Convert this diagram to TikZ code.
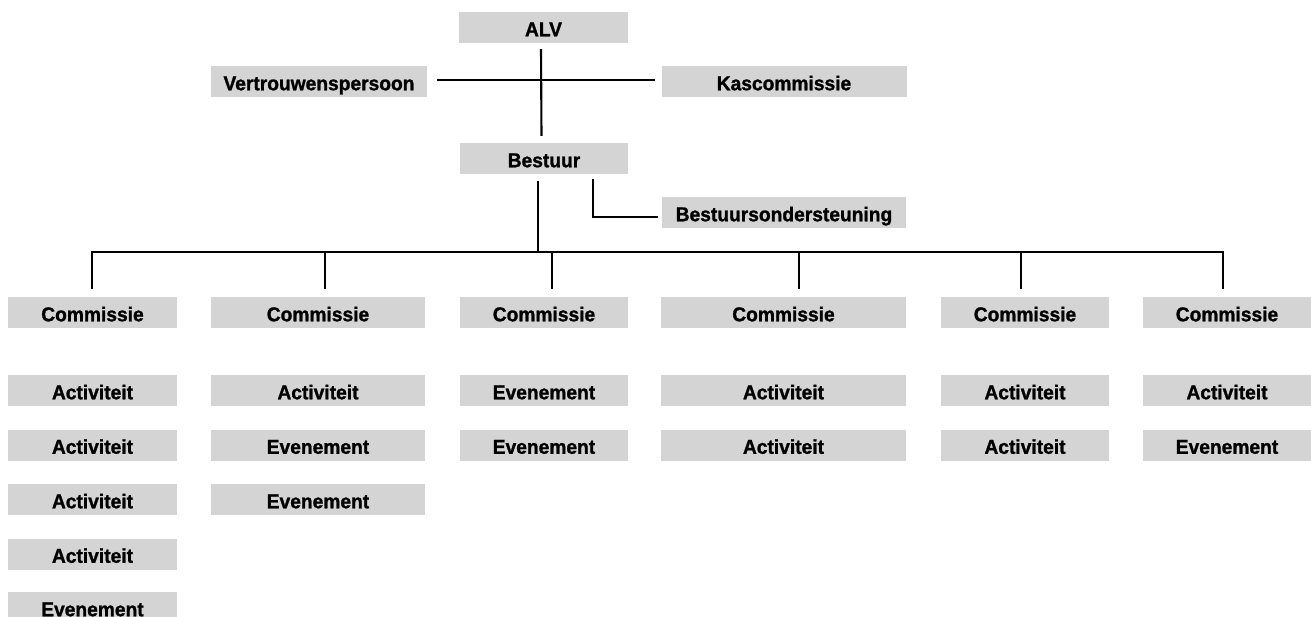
\documentclass[tikz,border=0pt]{standalone}
\usepackage{fontspec}
\setmainfont[FakeStretch=0.96,BoldFeatures={FakeBold=1.2}]{Liberation Sans}
\usetikzlibrary{calc}
\definecolor{boxgray}{RGB}{212,212,212}
\begin{document}
\begin{tikzpicture}[x=1pt,y=-1pt,
  box/.style={fill=boxgray, inner sep=0pt, minimum height=31pt,
    text height=17.5pt, text depth=0pt,
    font=\fontsize{20}{20}\selectfont\bfseries},
  conn/.style={line width=2.1pt, black}]
\useasboundingbox (0,0) rectangle (1311,616);
\clip (0,0) rectangle (1311,616);
% top part
\node[box, minimum width=169pt] (alv) at (543.5,27.5) {ALV};
\node[box, minimum width=216pt] (vp) at (319,81.5) {Vertrouwenspersoon};
\node[box, minimum width=245pt] (kas) at (784,81.5) {Kascommissie};
\node[box, minimum width=168pt] (bestuur) at (544,158.5) {Bestuur};
\node[box, minimum width=244pt] (bo) at (784,212.5) {Bestuursondersteuning};
% commissies
\node[box, minimum width=169pt] (c1) at (92.5,312.5) {Commissie};
\node[box, minimum width=214pt] (c2) at (318,312.5) {Commissie};
\node[box, minimum width=168pt] (c3) at (544,312.5) {Commissie};
\node[box, minimum width=245pt] (c4) at (783.5,312.5) {Commissie};
\node[box, minimum width=168pt] (c5) at (1025,312.5) {Commissie};
\node[box, minimum width=168pt] (c6) at (1227,312.5) {Commissie};
% column 1
\node[box, minimum width=169pt] (c1a) at (92.5,390.5) {Activiteit};
\node[box, minimum width=169pt] (c1b) at (92.5,445) {Activiteit};
\node[box, minimum width=169pt] (c1c) at (92.5,499.5) {Activiteit};
\node[box, minimum width=169pt] (c1d) at (92.5,554) {Activiteit};
\node[box, minimum width=169pt] (c1e) at (92.5,607.5) {Evenement};
% column 2
\node[box, minimum width=214pt] (c2a) at (318,390.5) {Activiteit};
\node[box, minimum width=214pt] (c2b) at (318,445) {Evenement};
\node[box, minimum width=214pt] (c2c) at (318,499.5) {Evenement};
% column 3
\node[box, minimum width=168pt] (c3a) at (544,390.5) {Evenement};
\node[box, minimum width=168pt] (c3b) at (544,445) {Evenement};
% column 4
\node[box, minimum width=245pt] (c4a) at (783.5,390.5) {Activiteit};
\node[box, minimum width=245pt] (c4b) at (783.5,445) {Activiteit};
% column 5
\node[box, minimum width=168pt] (c5a) at (1025,390.5) {Activiteit};
\node[box, minimum width=168pt] (c5b) at (1025,445) {Activiteit};
% column 6
\node[box, minimum width=168pt] (c6a) at (1227,390.5) {Activiteit};
\node[box, minimum width=168pt] (c6b) at (1227,445) {Evenement};
% connectors top
\draw[conn] ($(alv.south)+(-2.5,6)$) -- ($(bestuur.north)+(-2.5,-7)$);
\draw[conn] ($(vp.east)+(10,-1.5)$) -- ($(kas.west)+(-6,-1.5)$);
\coordinate (busL) at (0,252);
\coordinate (bdrop) at ($(bestuur.south)+(-6,7)$);
\draw[conn] (bdrop) -- (bdrop |- busL);
\coordinate (eb) at ($(bestuur.south)+(49,5)$);
\draw[conn] (eb) |- ($(bo.west)+(-4,4.5)$);
% drops to commissies
\foreach \n/\dx in {c1/-0.5, c2/7, c3/8, c4/15.5, c5/-4, c6/-4}{
  \coordinate (t\n) at ($(\n.north)+(\dx,-8)$);
}
\draw[conn] (tc1) -- (tc1 |- busL) -- (tc6 |- busL) -- (tc6);
\foreach \n in {c2,c3,c4,c5}{
  \draw[conn] (t\n |- busL) -- (t\n);
}
\end{tikzpicture}
\end{document}
